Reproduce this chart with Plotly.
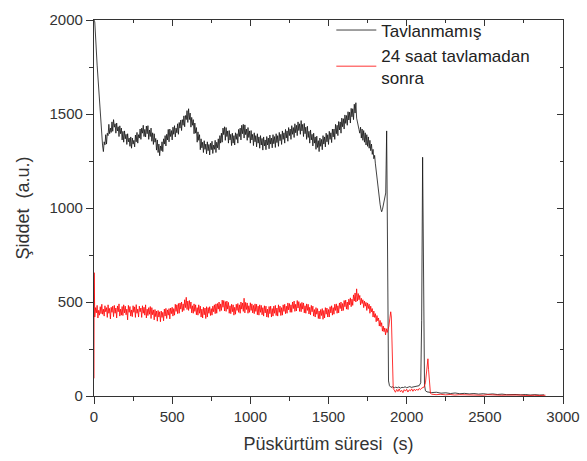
import plotly.graph_objects as go

# ---------------- data ----------------
# Tavlanmamış (black)
black_start_t = [0, 5, 20, 40, 55]
black_start_v = [2000, 1990, 1760, 1480, 1330]

black_noisy_t0 = 60          # sampled every 5 s
black_noisy_v = [
    1300, 1352, 1336, 1390, 1340, 1398, 1385, 1445, 1395, 1425, 1402, 1458,
    1408, 1470, 1430, 1448, 1398, 1452, 1410, 1432, 1380, 1437, 1395, 1425,
    1362, 1408, 1350, 1410, 1368, 1392, 1338, 1395, 1352, 1372, 1328, 1378,
    1318, 1372, 1340, 1360, 1325, 1388, 1352, 1402, 1345, 1390, 1372, 1420,
    1365, 1425, 1398, 1440, 1380, 1418, 1378, 1436, 1395, 1438, 1365, 1415,
    1380, 1425, 1355, 1400, 1338, 1395, 1350, 1370, 1308, 1362, 1295, 1340,
    1278, 1330, 1305, 1352, 1300, 1368, 1340, 1385, 1330, 1392, 1362, 1418,
    1352, 1420, 1380, 1412, 1362, 1430, 1392, 1438, 1378, 1425, 1400, 1448,
    1392, 1455, 1425, 1468, 1412, 1470, 1440, 1490, 1432, 1492, 1470, 1518,
    1455, 1528, 1470, 1505, 1430, 1482, 1440, 1470, 1395, 1452, 1398, 1428,
    1350, 1405, 1360, 1390, 1310, 1368, 1320, 1350, 1295, 1358, 1312, 1340,
    1288, 1352, 1305, 1338, 1282, 1345, 1310, 1355, 1290, 1335, 1312, 1360,
    1295, 1350, 1320, 1368, 1310, 1385, 1345, 1398, 1350, 1425, 1390, 1432,
    1360, 1428, 1380, 1410, 1345, 1412, 1362, 1392, 1332, 1398, 1345, 1385,
    1335, 1400, 1365, 1395, 1345, 1418, 1380, 1425, 1362, 1440, 1395, 1445,
    1372, 1442, 1390, 1420, 1360, 1428, 1375, 1410, 1345, 1412, 1362, 1392,
    1332, 1400, 1352, 1385, 1325, 1395, 1345, 1378, 1318, 1385, 1335, 1370,
    1308, 1378, 1330, 1362, 1310, 1380, 1335, 1372, 1315, 1388, 1340, 1372,
    1320, 1390, 1342, 1380, 1322, 1395, 1348, 1385, 1328, 1402, 1358, 1392,
    1338, 1410, 1365, 1400, 1345, 1418, 1372, 1410, 1355, 1428, 1385, 1420,
    1365, 1438, 1392, 1428, 1375, 1448, 1400, 1440, 1385, 1458, 1412, 1448,
    1392, 1465, 1410, 1445, 1380, 1450, 1395, 1430, 1365, 1435, 1375, 1408,
    1345, 1415, 1362, 1392, 1330, 1398, 1345, 1378, 1312, 1382, 1322, 1358,
    1300, 1372, 1328, 1365, 1310, 1385, 1340, 1378, 1325, 1398, 1352, 1390,
    1338, 1408, 1365, 1400, 1348, 1420, 1378, 1420, 1365, 1445, 1395, 1440,
    1385, 1460, 1415, 1458, 1398, 1478, 1432, 1475, 1420, 1495, 1450, 1492,
    1440, 1512, 1468, 1510, 1452, 1530, 1485, 1528, 1470, 1552, 1505, 1560,
    1478, 1450, 1430, 1418, 1398, 1430, 1372, 1420, 1360, 1412, 1350, 1400,
    1335, 1390, 1328, 1378, 1318, 1360, 1305, 1340, 1285, 1312, 1262, 1280,
    1235, 1195, 1160, 1115, 1075, 1045, 1020, 995, 980, 992, 1010, 1028,
    1047,
]

black_mid_t = [1866, 1872, 1878, 1884, 1890, 1900, 1910, 1920, 1930, 1940,
               1950, 1960, 1970, 1980, 1990, 2000, 2010, 2020, 2030, 2040,
               2050, 2060, 2070, 2080, 2090, 2096, 2102, 2108, 2114, 2120]
black_mid_v = [1080, 1410, 600, 80, 55, 46, 49, 43, 47, 44,
               48, 42, 46, 45, 49, 44, 47, 50, 46, 48,
               51, 49, 53, 55, 70, 400, 1270, 600, 60, 28]

black_tail_t = [2130, 2160, 2190, 2220, 2250, 2280, 2310, 2340, 2370, 2400,
                2430, 2460, 2490, 2520, 2550, 2580, 2610, 2640, 2670, 2700,
                2730, 2760, 2790, 2820, 2850, 2880]
black_tail_v = [22, 18, 20, 15, 17, 13, 16, 12, 14, 11,
                13, 10, 12, 9, 11, 8, 10, 7, 9, 8,
                6, 8, 5, 7, 5, 6]

# 24 saat tavlamadan sonra (red)
red_start_t = [0, 1, 3]
red_start_v = [94, 656, 440]

red_noisy_t0 = 5             # sampled every 5 s
red_noisy_v = [
    420, 470, 442, 482, 415, 456, 430, 475, 438, 488, 435, 462,
    425, 480, 448, 470, 418, 485, 440, 466, 410, 472, 445, 478,
    422, 482, 440, 468, 415, 479, 448, 490, 425, 462, 430, 476,
    428, 485, 442, 478, 432, 462, 405, 482, 445, 476, 425, 458,
    422, 480, 445, 474, 418, 486, 440, 462, 420, 478, 448, 468,
    418, 480, 440, 472, 430, 485, 415, 462, 428, 470, 435, 476,
    412, 470, 432, 458, 405, 460, 422, 452, 398, 455, 420, 448,
    395, 452, 418, 445, 400, 462, 425, 466, 412, 458, 430, 465,
    410, 468, 438, 472, 425, 465, 430, 488, 450, 485, 438, 492,
    440, 495, 462, 500, 448, 490, 455, 512, 470, 525, 460, 505,
    455, 508, 465, 500, 442, 480, 440, 490, 450, 485, 432, 470,
    430, 485, 440, 478, 420, 462, 415, 472, 432, 468, 412, 475,
    420, 470, 440, 475, 428, 465, 430, 478, 448, 485, 438, 490,
    440, 492, 462, 500, 450, 490, 455, 510, 472, 508, 452, 502,
    450, 505, 462, 498, 440, 480, 438, 488, 448, 485, 430, 472,
    435, 488, 455, 492, 445, 485, 440, 500, 462, 495, 450, 520,
    442, 498, 460, 495, 440, 480, 445, 496, 455, 490, 442, 482,
    438, 490, 450, 488, 432, 478, 430, 485, 445, 482, 432, 470,
    425, 480, 442, 478, 420, 462, 418, 476, 438, 478, 420, 465,
    425, 478, 440, 482, 428, 468, 425, 485, 445, 478, 428, 470,
    430, 485, 450, 488, 438, 478, 440, 495, 458, 492, 445, 485,
    445, 500, 465, 505, 450, 488, 452, 508, 468, 502, 450, 492,
    448, 498, 462, 495, 442, 480, 440, 490, 455, 488, 436, 472,
    432, 482, 448, 478, 425, 460, 420, 470, 435, 465, 412, 452,
    410, 460, 428, 465, 408, 455, 415, 470, 435, 468, 420, 460,
    420, 475, 442, 480, 430, 470, 435, 488, 455, 490, 440, 480,
    442, 495, 465, 500, 452, 492, 455, 508, 475, 510, 462, 500,
    460, 515, 485, 522, 475, 515, 482, 538, 505, 548, 500, 570,
    505, 545, 512, 535, 485, 520, 492, 512, 470, 505, 478, 498,
    455, 495, 465, 488, 440, 478, 448, 465, 420, 452, 418, 438,
    395, 428, 400, 415, 372, 402, 370, 390, 345, 372, 342, 362,
    325, 358, 338, 352,
]

red_mid_t = [1886, 1892, 1898, 1902, 1906, 1910, 1914, 1920, 1928, 1936,
             1944, 1952, 1960, 1968, 1976, 1984, 1992, 2000, 2008, 2016,
             2024, 2032, 2040, 2048, 2056, 2064, 2072, 2080, 2088, 2096,
             2104, 2112, 2120, 2128, 2136, 2140, 2146, 2152]
red_mid_v = [370, 410, 448, 420, 250, 90, 40, 32, 20, 35,
             24, 38, 22, 30, 18, 34, 26, 36, 21, 33,
             27, 38, 25, 36, 28, 37, 30, 40, 34, 42,
             45, 48, 70, 120, 198, 140, 40, 15]

red_tail_t = [2158, 2188, 2218, 2248, 2278, 2308, 2338, 2368, 2398, 2428,
              2458, 2488, 2518, 2548, 2578, 2608, 2638, 2668, 2698, 2728,
              2758, 2788, 2818, 2848, 2888]
red_tail_v = [10, 7, 9, 6, 8, 5, 7, 6, 8, 5,
              6, 4, 7, 5, 6, 4, 5, 6, 4, 5,
              3, 5, 4, 3, 4]

name_black = "Tavlanmamış"
name_red = "24 saat tavlamadan<br>sonra"
x_title = "Püskürtüm süresi\u00a0\u00a0(s)"
y_title = "Şiddet\u00a0\u00a0(a.u.)"

# ---------------- assemble ----------------
black_t = (black_start_t
           + [black_noisy_t0 + 5 * i for i in range(len(black_noisy_v))]
           + black_mid_t + black_tail_t)
black_v = black_start_v + black_noisy_v + black_mid_v + black_tail_v

red_t = (red_start_t
         + [red_noisy_t0 + 5 * i for i in range(len(red_noisy_v))]
         + red_mid_t + red_tail_t)
red_v = red_start_v + red_noisy_v + red_mid_v + red_tail_v

FONT = "Liberation Sans, Arial, sans-serif"
AX = "#333333"

fig = go.Figure()
fig.add_trace(go.Scatter(x=black_t, y=black_v, mode="lines", name=name_black,
                         line=dict(color="#111111", width=0.8)))
fig.add_trace(go.Scatter(x=red_t, y=red_v, mode="lines", name=name_red,
                         line=dict(color="#ff0000", width=0.8)))
# dummy trace for mirrored axes (top / right, ticks inside)
fig.add_trace(go.Scatter(x=[0], y=[0], xaxis="x2", yaxis="y2", mode="markers",
                         marker=dict(opacity=0), showlegend=False,
                         hoverinfo="skip"))

axis_common = dict(showgrid=False, zeroline=False, showline=True,
                   linecolor=AX, linewidth=1.3,
                   tickcolor=AX, tickwidth=1.2, automargin=False)

fig.update_layout(
    width=587, height=461,
    margin=dict(l=94, r=24, t=12, b=65),
    paper_bgcolor="white", plot_bgcolor="white",
    font=dict(family=FONT, color=AX, size=15),
    xaxis=dict(range=[0, 3000], dtick=500, ticks="outside", ticklen=7,
               minor=dict(dtick=250, ticks="outside", ticklen=4,
                          tickcolor=AX),
               title=dict(text=x_title, font=dict(size=18, color=AX),
                          standoff=13),
               tickfont=dict(size=15, color=AX), **axis_common),
    yaxis=dict(range=[0, 2000], dtick=500, ticks="outside", ticklen=7,
               minor=dict(dtick=250, ticks="outside", ticklen=4,
                          tickcolor=AX),
               title=dict(text=y_title, font=dict(size=18, color=AX),
                          standoff=15),
               tickfont=dict(size=15, color=AX), **axis_common),
    xaxis2=dict(range=[0, 3000], overlaying="x", side="top", dtick=500,
                ticks="inside", ticklen=6, showticklabels=False,
                minor=dict(dtick=250, ticks="inside", ticklen=3,
                           tickcolor=AX),
                **axis_common),
    yaxis2=dict(range=[0, 2000], overlaying="y", side="right", dtick=500,
                ticks="inside", ticklen=6, showticklabels=False,
                minor=dict(dtick=250, ticks="inside", ticklen=3,
                           tickcolor=AX),
                **axis_common),
    legend=dict(x=0.506, y=1.02, xanchor="left", yanchor="top",
                bgcolor="rgba(255,255,255,0)",
                font=dict(size=17, color="#222222"),
                itemwidth=40, tracegroupgap=0),
    showlegend=True,
)

fig.write_html("out.html")
